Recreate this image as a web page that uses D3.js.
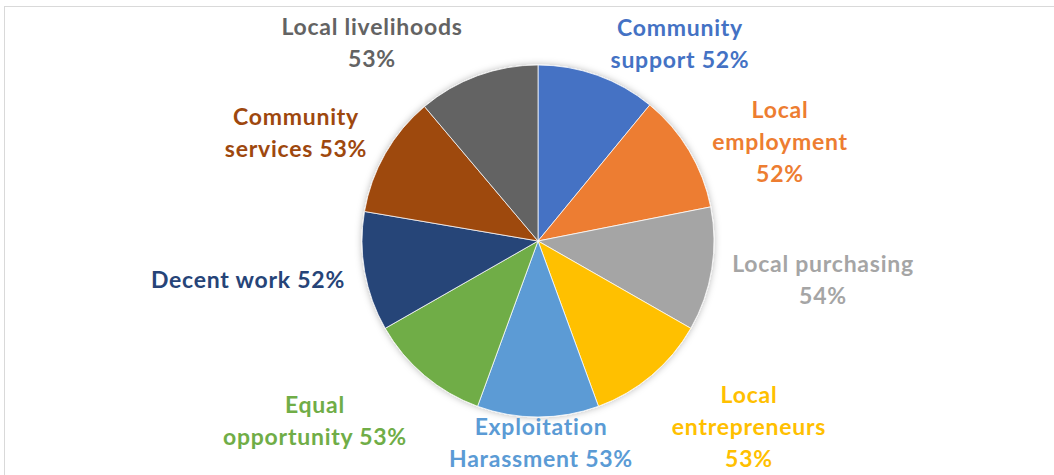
<!DOCTYPE html>
<html>
<head>
<meta charset="utf-8">
<script src="https://cdn.jsdelivr.net/npm/d3@7"></script>
<style>
  html, body { margin: 0; padding: 0; background: #ffffff; }
  svg { display: block; }
  .lbl { font-family: Lato, "Open Sans", sans-serif; font-weight: 700; letter-spacing: 0.75px; }
</style>
</head>
<body>
<svg id="chart" width="1054" height="475"></svg>
<script>
// Share of respondents reporting each type of local impact
const categories = [
  "Community support", "Local employment", "Local purchasing",
  "Local entrepreneurs", "Exploitation Harassment", "Equal opportunity",
  "Decent work", "Community services", "Local livelihoods"
];
const values = [52, 52, 54, 53, 53, 53, 52, 53, 53];

// Label text split into lines (percentage appended from values)
const labelLines = [
  ["Community", "support {v}%"],
  ["Local", "employment", "{v}%"],
  ["Local purchasing", "{v}%"],
  ["Local", "entrepreneurs", "{v}%"],
  ["Exploitation", "Harassment {v}%"],
  ["Equal", "opportunity {v}%"],
  ["Decent work {v}%"],
  ["Community", "services {v}%"],
  ["Local livelihoods", "{v}%"]
];

// Office palette
const colors = ["#4472C4", "#ED7D31", "#A5A5A5", "#FFC000", "#5B9BD5",
                "#70AD47", "#264478", "#9E480E", "#636363"];

// Label block anchors (centre x, first baseline y)
const labelAnchor = [
  [680, 36], [780, 118], [823, 272], [749, 403], [541, 435],
  [315, 413], [248, 288], [296, 125], [372, 35]
];
const lineHeight = 32;

const svg = d3.select("#chart");
const W = 1054, H = 475;
const cx = 538, cy = 241, radius = 176;

// chart area frame
svg.append("rect")
  .attr("x", 4.5).attr("y", 6.5)
  .attr("width", W + 10).attr("height", H + 10)
  .attr("fill", "#ffffff")
  .attr("stroke", "#d9d9d9").attr("stroke-width", 1);

const defs = svg.append("defs");
const shadow = defs.append("filter").attr("id", "soft")
  .attr("x", "-20%").attr("y", "-20%").attr("width", "140%").attr("height", "140%");
shadow.append("feDropShadow")
  .attr("dx", 0).attr("dy", 0).attr("stdDeviation", 3.5)
  .attr("flood-color", "#000").attr("flood-opacity", 0.28);

const data = categories.map((c, i) => ({ name: c, value: values[i], color: colors[i] }));

const pie = d3.pie().sort(null).value(d => d.value);
const arc = d3.arc().innerRadius(0).outerRadius(radius);

const g = svg.append("g").attr("transform", `translate(${cx},${cy})`);
const slices = g.append("g").attr("filter", "url(#soft)");
slices.selectAll("path")
  .data(pie(data))
  .join("path")
  .attr("d", arc)
  .attr("fill", d => d.data.color)
  .attr("stroke", "#ffffff")
  .attr("stroke-width", 0.75);

// Data labels
const labels = svg.append("g");
data.forEach((d, i) => {
  const [lx, ly] = labelAnchor[i];
  const t = labels.append("text")
    .attr("class", "lbl")
    .attr("text-anchor", "middle")
    .attr("font-size", 23)
    .attr("fill", d.color);
  labelLines[i].forEach((line, k) => {
    t.append("tspan")
      .attr("x", lx)
      .attr("y", ly + k * lineHeight)
      .text(line.replace("{v}", d.value));
  });
});
</script>
</body>
</html>
